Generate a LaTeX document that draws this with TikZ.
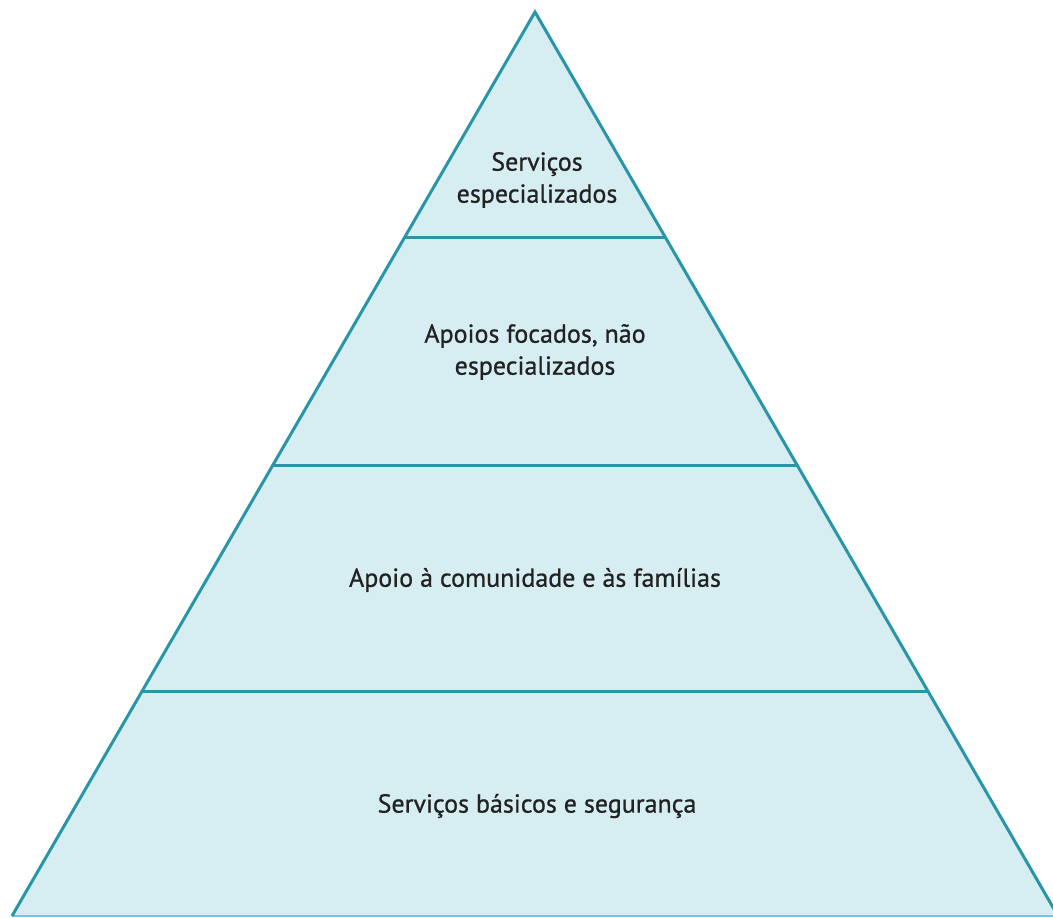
\documentclass[tikz,border=0pt]{standalone}
\usepackage{fontspec}
\setmainfont{PT Sans}[BoldFont={PT Sans},BoldFeatures={FakeBold=0.8}]
\usetikzlibrary{calc}
\definecolor{pyrfill}{RGB}{214,238,242}
\definecolor{pyredge}{RGB}{40,150,166}
\definecolor{pyrbase}{RGB}{110,200,225}
\definecolor{pyrtext}{RGB}{34,34,34}
\def\pyramid{(L) -- (T) -- (R) -- cycle}

\begin{document}
\begin{tikzpicture}[x=1pt,y=-1pt,
    level/.style={pyredge,line width=3pt},
    tier/.style={text=pyrtext,align=center,font=\fontsize{26}{32}\selectfont\bfseries}]
    \useasboundingbox (0,0) rectangle (1053,918);
    \coordinate (T) at (535,12);
    \coordinate (L) at (12,916);
    \coordinate (R) at (1058,916);
    \begin{scope}
        \clip (0,0) rectangle (1053,918);
        \fill[pyrfill] \pyramid;
        \draw[pyrbase,line width=2pt] (L) -- (R);
        \draw[level,line join=miter] (L) -- (T) -- (R);
        % tier borders
        \draw[level] ($(L)!0.7511!(T)$) coordinate (a1) -- ($(R)!0.7511!(T)$) coordinate (b1);
        \draw[level] ($(L)!0.4978!(T)$) coordinate (a2) -- ($(R)!0.4978!(T)$) coordinate (b2);
        \draw[level] ($(L)!0.2478!(T)$) coordinate (a3) -- ($(R)!0.2478!(T)$) coordinate (b3);
    \end{scope}
    \node[tier] (special) at (537,180) {Serviços\\especializados};
    \node[tier] (focused) at (535,352) {Apoios focados, não\\especializados};
    \node[tier] (community) at (535,580) {Apoio à comunidade e às famílias};
    \node[tier] (basic) at (537,806) {Serviços básicos e segurança};
\end{tikzpicture}
\end{document}
